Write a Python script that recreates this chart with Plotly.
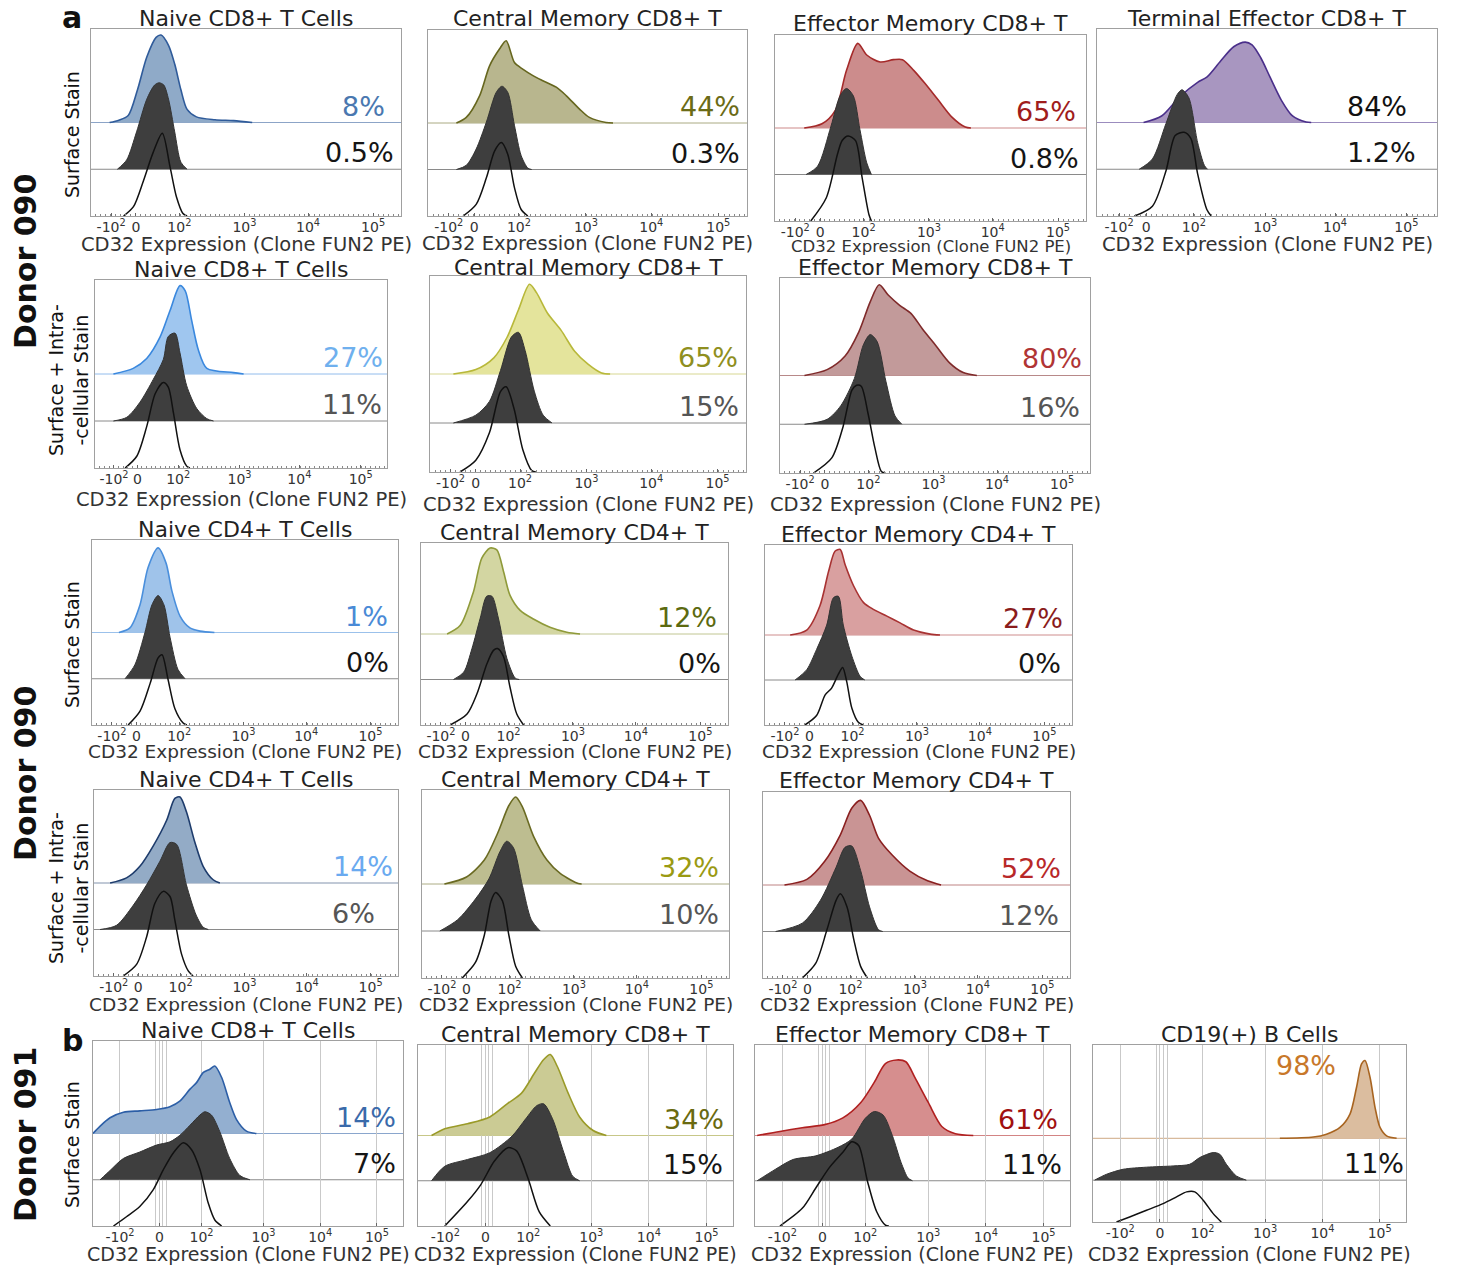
import plotly.graph_objects as go

W, H = 1458, 1266

# ---------------- data ----------------
TICK_TEXT = ["-10<sup>2</sup>", "0", "10<sup>2</sup>", "10<sup>3</sup>", "10<sup>4</sup>", "10<sup>5</sup>"]
X_LABEL = "CD32 Expression (Clone FUN2 PE)"

TITLES = [
    "Naive CD8+ T Cells", "Central Memory CD8+ T", "Effector Memory CD8+ T", "Terminal Effector CD8+ T",
    "Naive CD8+ T Cells", "Central Memory CD8+ T", "Effector Memory CD8+ T",
    "Naive CD4+ T Cells", "Central Memory CD4+ T", "Effector Memory CD4+ T",
    "Naive CD4+ T Cells", "Central Memory CD4+ T", "Effector Memory CD4+ T",
    "Naive CD8+ T Cells", "Central Memory CD8+ T", "Effector Memory CD8+ T", "CD19(+) B Cells",
]
TOP_PCT = ["8%", "44%", "65%", "84%", "27%", "65%", "80%", "1%", "12%", "27%",
           "14%", "32%", "52%", "14%", "34%", "61%", "98%"]
MID_PCT = ["0.5%", "0.3%", "0.8%", "1.2%", "11%", "15%", "16%", "0%", "0%", "0%",
           "6%", "10%", "12%", "7%", "15%", "11%", "11%"]

# histogram knots: (display position on logicle axis, normalized-to-mode height)
P01_TOP = [(6,0),(9,0.05),(12,0.15),(15,0.7),(18,1.4),(21,1.82),(22.6,1.87),(25,1.65),(27,1.25),(29,0.7),(31,0.28),(34,0.12),(40,0.06),(46,0.04),(52,0)]
P01_MID = [(8.5,0),(11.5,0.2),(14.7,0.8),(18,1.5),(20.5,1.8),(22,1.85),(23.5,1.8),(25,1.5),(27,0.8),(29,0.15),(31,0)]
P01_BOT = [(10.5,0),(13.7,0.2),(16.9,0.75),(20,1.35),(23,1.77),(25.5,1.05),(27.6,0.4),(29.6,0.06),(31,0)]

P02_TOP = [(8.9,0),(12,0.12),(16.2,0.59),(19.3,1.23),(22.4,1.59),(24.5,1.77),(27.1,1.3),(29.7,1.16),(32.9,1.02),(36,0.91),(40.2,0.77),(43.3,0.59),(47.5,0.3),(50.6,0.12),(55.8,0.01),(58,0)]
P02_MID = [(8.9,0),(12,0.09),(15.1,0.44),(18.3,1.02),(21.4,1.66),(23.2,1.79),(25,1.66),(27.1,0.95),(29.2,0.3),(31.3,0.03),(32.5,0)]
P02_BOT = [(11,0),(15.1,0.25),(18.3,0.82),(20.9,1.4),(23,1.58),(25,1.33),(27.1,0.61),(29.2,0.14),(31.3,0)]

P03_TOP = [(9.4,0),(15.1,0.09),(19.4,0.38),(23,1.24),(26.6,1.82),(29.5,1.57),(33.8,1.42),(38.1,1.47),(41,1.47),(44.6,1.24),(48.2,0.96),(52.5,0.6),(56.8,0.24),(61.2,0.02),(63,0)]
P03_MID = [(10,0),(13.7,0.18),(18,1.04),(20.9,1.69),(23,1.85),(25.2,1.69),(27.3,0.97),(29.5,0.25),(31,0)]
P03_BOT = [(11.5,0),(16.5,0.5),(20.1,1.44),(21.6,1.73),(23.5,1.83),(25.9,1.73),(28,0.94),(30.2,0.14),(31,0)]

P04_TOP = [(13.7,0),(19,0.14),(24.3,0.55),(29.6,0.86),(32.3,0.97),(36.3,1.31),(40.2,1.62),(43.6,1.72),(45.6,1.66),(48.2,1.38),(50.9,0.97),(54.2,0.48),(57.5,0.14),(61.5,0.01),(63,0)]
P04_MID = [(12.4,0),(16.3,0.22),(20.3,0.98),(23.6,1.6),(25,1.7),(27,1.53),(29.6,0.57),(31.6,0.08),(32.5,0)]
P04_BOT = [(11,0),(16.3,0.21),(20.3,0.97),(23,1.72),(25.6,1.79),(27.6,1.66),(29.6,0.9),(32.3,0.14),(33.6,0)]

P05_TOP = [(6.3,0),(13.1,0.12),(17.7,0.33),(22.3,0.79),(25.7,1.35),(29.1,1.88),(30.9,1.77),(33.1,1.14),(35.4,0.51),(38.3,0.12),(47.4,0.03),(50.9,0)]
P05_MID = [(6.3,0),(10.9,0.08),(15.4,0.4),(20,0.89),(23.4,1.31),(25.1,1.8),(27.4,1.87),(29.1,1.45),(31.4,0.75),(34.9,0.26),(38.3,0.05),(40.6,0)]
P05_BOT = [(10.3,0),(14.3,0.25),(17.7,0.88),(20.6,1.58),(23.4,1.82),(25.1,1.72),(26.9,1.16),(29.1,0.39),(31.4,0.04),(32.5,0)]

P06_TOP = [(7.4,0),(14.5,0.09),(20.2,0.33),(24.4,0.75),(28,1.31),(31.5,1.83),(33.7,1.66),(37.2,1.24),(41.5,0.89),(45.7,0.47),(50,0.2),(54.3,0.02),(57,0)]
P06_MID = [(7.4,0),(14.5,0.16),(18.8,0.44),(22.3,1.07),(25.8,1.76),(28,1.85),(30.1,1.48),(33,0.65),(35.8,0.16),(38.6,0)]
P06_BOT = [(9.5,0),(14.5,0.24),(18.8,0.8),(22.3,1.64),(24.1,1.74),(26.6,1.29),(29.4,0.45),(32.2,0.03),(33.5,0)]

P07_TOP = [(7.9,0),(15.2,0.12),(21,0.4),(25.4,0.89),(29.1,1.51),(32,1.86),(34.9,1.65),(38.6,1.44),(42.3,1.27),(45.9,0.96),(50.3,0.61),(54.7,0.26),(59.1,0.06),(63.5,0)]
P07_MID = [(7.9,0),(15.2,0.1),(19.6,0.38),(24,0.94),(26.9,1.63),(29.1,1.84),(31.3,1.7),(34.2,0.87),(37.1,0.17),(39.3,0)]
P07_BOT = [(10.8,0),(16.7,0.31),(20.3,0.94),(23.2,1.7),(24.7,1.8),(26.2,1.78),(28.4,1.22),(30.6,0.52),(32.7,0.03),(34,0)]

P08_TOP = [(8.8,0),(12.4,0.1),(15.7,0.6),(18.3,1.4),(21.6,1.83),(24.2,1.5),(26.1,0.9),(28.8,0.35),(32,0.1),(35.3,0.03),(40,0)]
P08_MID = [(10.8,0),(14,0.3),(17.3,1.0),(19.6,1.6),(21.6,1.8),(23.5,1.6),(25.5,0.9),(28.1,0.2),(30.4,0)]
P08_BOT = [(11.8,0),(15.7,0.3),(19,0.9),(21.6,1.45),(22.9,1.52),(24.8,1.0),(27.1,0.35),(29.7,0.05),(31,0)]

P09_TOP = [(8.5,0),(12.8,0.19),(17.1,0.93),(19.8,1.67),(22.5,1.89),(24.7,1.85),(26.9,1.37),(29,0.85),(32.3,0.52),(36.6,0.33),(42,0.15),(47.5,0.04),(51.8,0)]
P09_MID = [(10.6,0),(13.9,0.16),(16.6,0.68),(19.3,1.35),(21.4,1.83),(23.1,1.83),(25.2,1.35),(28,0.46),(30.7,0.03),(32,0)]
P09_BOT = [(9.5,0),(15,0.24),(18.2,0.68),(21.5,1.35),(23.6,1.64),(24.9,1.68),(26.9,1.5),(29,0.83),(31.2,0.24),(33.4,0)]

P10_TOP = [(8.2,0),(13.6,0.11),(17.9,0.65),(20.7,1.41),(22.8,1.86),(24.5,1.9),(26.1,1.56),(28.8,1.1),(32.1,0.72),(35.3,0.57),(39.7,0.42),(44,0.27),(48.4,0.11),(53.8,0.02),(57,0)]
P10_MID = [(9.8,0),(13.6,0.23),(16.8,0.68),(20.1,1.22),(22.3,1.83),(23.9,1.86),(25.5,1.22),(28.3,0.53),(31,0.08),(32.5,0)]
P10_BOT = [(13,0),(16.8,0.21),(19.6,0.67),(21.7,0.82),(23.9,1.13),(25.3,1.28),(26.6,0.97),(28.3,0.37),(30.4,0.06),(32,0)]

P11_TOP = [(5.3,0),(10.7,0.11),(15.1,0.36),(19.5,0.8),(23.9,1.35),(26.6,1.82),(28.3,1.85),(30.4,1.53),(33.2,0.87),(35.9,0.36),(39.2,0.07),(41.4,0)]
P11_MID = [(2,0),(7.4,0.09),(12.9,0.52),(17.3,0.96),(21.7,1.47),(25,1.87),(27.2,1.83),(30.4,0.96),(33.6,0.31),(35.9,0.05),(37.6,0)]
P11_BOT = [(9.6,0),(14,0.25),(17.3,0.84),(20,1.56),(22.8,1.82),(25,1.71),(26.6,1.2),(28.8,0.47),(31,0.11),(32.6,0)]

P12_TOP = [(7.3,0),(14.5,0.15),(20.3,0.51),(24.7,1.09),(28.3,1.67),(30.5,1.85),(32.7,1.64),(36.3,1.02),(40.7,0.51),(45.1,0.22),(50.9,0.01),(52,0)]
P12_MID = [(5.8,0),(11.6,0.24),(17.4,0.68),(21.8,1.11),(25.4,1.69),(27.6,1.91),(29.8,1.77),(32.7,0.97),(35.6,0.24),(38.5,0)]
P12_BOT = [(13.1,0),(17.4,0.33),(20.3,0.91),(22.5,1.64),(24,1.82),(26.2,1.64),(28.3,0.91),(30.5,0.25),(32.7,0)]

P13_TOP = [(7,0),(14.3,0.12),(20.1,0.51),(25.2,1.08),(28.9,1.65),(31.8,1.82),(34.7,1.5),(37.6,1.01),(42,0.65),(47.8,0.3),(53.6,0.09),(58,0)]
P13_MID = [(4.1,0),(12.8,0.18),(18.7,0.67),(23.8,1.38),(26.7,1.81),(28.9,1.84),(31.8,1.31),(34.7,0.53),(37.6,0.04),(39,0)]
P13_BOT = [(12.8,0),(17.2,0.32),(20.8,1.03),(23.8,1.67),(25.2,1.81),(27.4,1.52),(29.6,0.82),(31.8,0.25),(34,0)]

P14_TOP = [(0,0),(2.3,0.16),(5.5,0.34),(9.8,0.46),(15.1,0.49),(20.5,0.52),(24.8,0.58),(28,0.7),(31.3,0.96),(33.4,1.1),(35.6,1.32),(37.7,1.39),(39.3,1.46),(41.5,1.21),(44.1,0.67),(46.3,0.3),(49.5,0.05),(52.7,0)]
P14_MID = [(2.3,0),(5.5,0.2),(9.8,0.46),(15.1,0.6),(20.5,0.75),(24.8,0.82),(28,0.96),(31.3,1.18),(34.5,1.4),(36.1,1.47),(38.2,1.4),(40.9,1.04),(44.1,0.46),(47.4,0.09),(50.6,0)]
P14_BOT = [(6.6,0),(10.8,0.2),(15.1,0.42),(19.4,0.78),(22.7,1.22),(25.9,1.58),(29.1,1.8),(31.8,1.65),(34.5,1.22),(37.2,0.49),(39.3,0.13),(41.5,0)]

P15_TOP = [(4.3,0),(8.5,0.15),(15.7,0.26),(22.8,0.41),(28.5,0.71),(32.8,0.93),(37,1.38),(39.9,1.68),(42,1.79),(44.2,1.53),(47.7,0.93),(51.3,0.41),(55.6,0.11),(59.8,0)]
P15_MID = [(4.3,0),(8.5,0.32),(15.7,0.47),(22.8,0.62),(29.9,0.99),(34.2,1.37),(37.7,1.66),(39.9,1.7),(42.7,1.37),(46.3,0.62),(49.1,0.1),(51.3,0)]
P15_BOT = [(8.5,0),(15.7,0.54),(19.9,0.91),(24.2,1.43),(28.5,1.73),(31.3,1.66),(34.9,1.06),(38.5,0.31),(42,0)]

P16_TOP = [(0.7,0),(7.9,0.09),(15,0.17),(22.1,0.24),(27.9,0.39),(33.6,0.73),(37.9,1.18),(41.4,1.59),(45,1.67),(47.9,1.63),(50.7,1.29),(55,0.73),(59.3,0.2),(63.6,0.04),(69.3,0)]
P16_MID = [(0.7,0),(6.4,0.25),(12.1,0.47),(19.3,0.55),(26.4,0.74),(30.7,0.92),(35,1.38),(37.9,1.53),(40.7,1.45),(43.6,1.0),(46.4,0.4),(48.6,0.06),(50,0)]
P16_BOT = [(7.9,0),(15,0.39),(19.3,0.84),(23.6,1.29),(27.9,1.63),(30.7,1.86),(32.9,1.78),(35.7,0.99),(38.6,0.32),(41.4,0.02),(42.5,0)]

P17_TOP = [(59.7,0),(70.4,0.03),(74.6,0.1),(78.9,0.26),(82.1,0.58),(84.2,1.22),(85.8,1.78),(86.9,1.86),(88.5,1.46),(90.1,0.74),(91.7,0.26),(93.8,0.06),(97,0)]
P17_MID = [(0.5,0),(4.3,0.14),(9.6,0.26),(17.1,0.31),(25.6,0.34),(30.9,0.38),(34.1,0.54),(38.4,0.66),(40.5,0.62),(42.6,0.38),(45.8,0.1),(49,0)]
P17_BOT = [(7.5,0),(11.7,0.12),(17.1,0.28),(22.4,0.44),(26.7,0.6),(29.9,0.72),(32.5,0.72),(35.2,0.52),(38.4,0.2),(41,0)]

TOPS = [P01_TOP, P02_TOP, P03_TOP, P04_TOP, P05_TOP, P06_TOP, P07_TOP, P08_TOP, P09_TOP,
        P10_TOP, P11_TOP, P12_TOP, P13_TOP, P14_TOP, P15_TOP, P16_TOP, P17_TOP]
MIDS = [P01_MID, P02_MID, P03_MID, P04_MID, P05_MID, P06_MID, P07_MID, P08_MID, P09_MID,
        P10_MID, P11_MID, P12_MID, P13_MID, P14_MID, P15_MID, P16_MID, P17_MID]
BOTS = [P01_BOT, P02_BOT, P03_BOT, P04_BOT, P05_BOT, P06_BOT, P07_BOT, P08_BOT, P09_BOT,
        P10_BOT, P11_BOT, P12_BOT, P13_BOT, P14_BOT, P15_BOT, P16_BOT, P17_BOT]

# ---------------- layout / style ----------------
# axis tick positions on the display (logicle) scale, 0..100 across the panel
TICKS_A = [6.5, 14.5, 28.5, 49.5, 70, 91]
TICKS_B = [8.7, 21.4, 35, 55, 73.3, 91.6]
GRID_B_EXTRA = [20.3, 22.4, 23.7]

# panel frames in pixels: left, right, top, bottom
FRAMES = [
    (91, 401, 29, 216), (428, 747, 30, 216), (775, 1086, 35, 221), (1097, 1437, 29, 216),
    (95, 387, 280, 468), (430, 746, 276, 472), (780, 1090, 278, 473),
    (92, 398, 540, 725), (421, 728, 543, 725), (765, 1072, 545, 725),
    (94, 398, 790, 976), (422, 729, 790, 978), (763, 1070, 792, 978),
    (93, 403, 1041, 1226), (418, 733, 1045, 1226), (755, 1070, 1045, 1226), (1093, 1406, 1045, 1222),
]
TITLE_GAP = [11] * 5 + [9] + [11] * 11
YMAX = [4.0] * 16 + [4.23]
XLAB_Y = [244, 243, 246, 244, 499, 505, 505, 751, 751, 751, 1004, 1004, 1004, 1254, 1254, 1254, 1254]
XLAB_SIZE = [19.5, 19.5, 16.5, 19.5] + [19.5] * 3 + [18.5] * 6 + [19] * 4

FILL = ["#8faac8", "#b8b68e", "#cc8c8c", "#a896c0",
        "#9fc6ef", "#e4e49c", "#c29a9a",
        "#9fc3ea", "#d3d6a2", "#d9a0a0",
        "#93abc6", "#bdbd90", "#c99494",
        "#93afd0", "#cbcb94", "#d68e8e", "#dbbd9f"]
LINE = ["#2f5b9a", "#66661e", "#a52a2a", "#4a2f8a",
        "#3a88de", "#b8b83a", "#7f2a2a",
        "#4a8fdc", "#8f9a3a", "#a83232",
        "#1e3c6c", "#6a6a22", "#8a2020",
        "#2c5ea6", "#9a9a28", "#b02020", "#a86420"]
PCT_COL = ["#4a78b0", "#6b6b16", "#a01c1c", "#111111",
           "#6fb0ee", "#8f8f20", "#b03535",
           "#4a8ad6", "#5c6a10", "#8a1c1c",
           "#6aaaf0", "#9a9a12", "#b82828",
           "#3a6aaa", "#6a6a10", "#a01010", "#c8782a"]
MID_PCT_COL = ["#151515"] * 4 + ["#555555"] * 3 + ["#151515"] * 3 + ["#555555"] * 3 + ["#151515"] * 4
TOP_PCT_X = [95, 98, 97, 91.5, 99, 97.8, 97.7, 97, 96.6, 97.4, 98.7, 97, 97.4, 98, 97.5, 96.5, 68]
MID_PCT_X = [98, 98, 98, 94, 98.6, 98, 97, 97.4, 97.9, 96.7, 92.8, 97, 96.7, 98, 97, 97.8, 99.7]

FONT = "DejaVu Sans, Verdana, sans-serif"
GRAY_FILL = "#3e3e3e"
FRAME_COL = "#a0a0a0"
PCT_SIZE = 27
TITLE_SIZE = 22

fig = go.Figure()
annotations = []
shapes = []
layout_axes = {}


def pts(knots, base):
    return [k[0] for k in knots], [base + k[1] for k in knots]


for i in range(17):
    n = i + 1
    sx = "" if n == 1 else str(n)
    xa, ya = "x" + sx, "y" + sx
    l, r, t, b = FRAMES[i]
    rowb = i >= 13
    ticks = TICKS_B if rowb else TICKS_A

    xax = dict(domain=[l / W, r / W], range=[0, 100], anchor=ya,
               showline=True, mirror=True, linecolor=FRAME_COL, linewidth=1.2,
               ticks="inside", ticklen=3, tickcolor="#666", tickwidth=1,
               tickmode="array", tickvals=ticks, ticktext=TICK_TEXT,
               tickfont=dict(family=FONT, size=14, color="#333"),
               ticklabelstandoff=-2,
               zeroline=False, fixedrange=True,
               showgrid=rowb, gridcolor="#c9c9c9", gridwidth=1)
    if rowb:
        xax["minor"] = dict(tickmode="array", tickvals=GRID_B_EXTRA, showgrid=True,
                            gridcolor="#c9c9c9", gridwidth=1, ticks="")
    else:
        xax["minor"] = dict(tickmode="linear", tick0=0, dtick=1.6, ticks="inside",
                            ticklen=2, tickcolor="#888", showgrid=False)
    yax = dict(domain=[1 - b / H, 1 - t / H], range=[0, YMAX[i]], anchor=xa,
               showline=True, mirror=True, linecolor=FRAME_COL, linewidth=1.2,
               showticklabels=False, ticks="", showgrid=False, zeroline=False,
               fixedrange=True)
    layout_axes["xaxis" + sx] = xax
    layout_axes["yaxis" + sx] = yax

    # baselines of the stacked histograms
    dref = xa + " domain"
    shapes.append(dict(type="line", xref=dref, yref=ya, x0=0, x1=1, y0=2, y1=2,
                       line=dict(color=LINE[i], width=1), opacity=0.55, layer="below"))
    shapes.append(dict(type="line", xref=dref, yref=ya, x0=0, x1=1, y0=1, y1=1,
                       line=dict(color="#8a8a8a", width=1), layer="below"))

    # top: stained sample (coloured)
    x, y = pts(TOPS[i], 2)
    fig.add_trace(go.Scatter(x=x, y=y, xaxis=xa, yaxis=ya, mode="lines",
                             line=dict(color=LINE[i], width=1.6, shape="spline", smoothing=0.8),
                             fill="toself", fillcolor=FILL[i], hoverinfo="skip", showlegend=False))
    # middle: control (dark grey filled)
    x, y = pts(MIDS[i], 1)
    fig.add_trace(go.Scatter(x=x, y=y, xaxis=xa, yaxis=ya, mode="lines",
                             line=dict(color="#333333", width=1, shape="spline", smoothing=0.8),
                             fill="toself", fillcolor=GRAY_FILL, hoverinfo="skip", showlegend=False))
    # bottom: unstained (black outline)
    x, y = pts(BOTS[i], 0)
    fig.add_trace(go.Scatter(x=x, y=y, xaxis=xa, yaxis=ya, mode="lines",
                             line=dict(color="#111111", width=1.5, shape="spline", smoothing=0.8),
                             hoverinfo="skip", showlegend=False))

    # titles and axis label
    annotations.append(dict(text=TITLES[i], xref="paper", yref="paper",
                            x=(l + r) / 2 / W, y=1 - (t - TITLE_GAP[i]) / H, xanchor="center", yanchor="middle",
                            showarrow=False, font=dict(family=FONT, size=TITLE_SIZE, color="#222")))
    annotations.append(dict(text=X_LABEL, xref="paper", yref="paper",
                            x=(l + r) / 2 / W, y=1 - XLAB_Y[i] / H, xanchor="center", yanchor="middle",
                            showarrow=False, font=dict(family=FONT, size=XLAB_SIZE[i], color="#333")))
    # percentages
    if i == 16:
        annotations.append(dict(text=TOP_PCT[i], xref=xa, yref=ya, x=TOP_PCT_X[i], y=3.75,
                                xanchor="center", yanchor="middle", showarrow=False,
                                font=dict(family=FONT, size=PCT_SIZE, color=PCT_COL[i])))
    else:
        annotations.append(dict(text=TOP_PCT[i], xref=xa, yref=ya, x=TOP_PCT_X[i], y=2.0,
                                xanchor="right", yanchor="bottom", showarrow=False, borderpad=0,
                                font=dict(family=FONT, size=PCT_SIZE, color=PCT_COL[i])))
    annotations.append(dict(text=MID_PCT[i], xref=xa, yref=ya, x=MID_PCT_X[i], y=1.0,
                            xanchor="right", yanchor="bottom", showarrow=False, borderpad=0,
                            font=dict(family=FONT, size=PCT_SIZE, color=MID_PCT_COL[i])))

# row / figure labels
def plab(text, px, py, size, bold=False, angle=0):
    annotations.append(dict(text=("<b>%s</b>" % text) if bold else text, xref="paper", yref="paper",
                            x=px / W, y=1 - py / H, xanchor="center", yanchor="middle",
                            showarrow=False, textangle=angle,
                            font=dict(family=FONT, size=size, color="#111")))

plab("a", 72, 17, 30, bold=True)
plab("b", 72, 1040, 30, bold=True)
plab("Donor 090", 25, 262, 30, bold=True, angle=-90)
plab("Donor 090", 25, 774, 30, bold=True, angle=-90)
plab("Donor 091", 25, 1135, 30, bold=True, angle=-90)
plab("Surface Stain", 72, 135, 19, angle=-90)
plab("Surface + Intra-<br>-cellular Stain", 68, 380, 19, angle=-90)
plab("Surface Stain", 72, 645, 19, angle=-90)
plab("Surface + Intra-<br>-cellular Stain", 68, 888, 19, angle=-90)
plab("Surface Stain", 72, 1145, 19, angle=-90)

fig.update_layout(width=W, height=H, margin=dict(l=0, r=0, t=0, b=0),
                  paper_bgcolor="white", plot_bgcolor="white",
                  annotations=annotations, shapes=shapes, showlegend=False,
                  font=dict(family=FONT), **layout_axes)

fig.write_html("out.html", config={"displayModeBar": False},
               post_script="document.body.style.margin='0';document.body.style.padding='0';")
